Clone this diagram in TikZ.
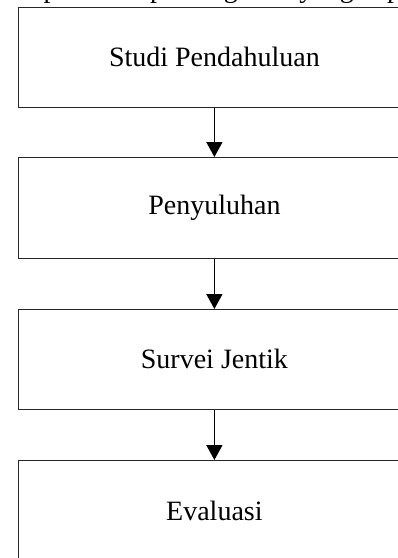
\documentclass[tikz,border=0pt]{standalone}
\usepackage{fontspec}
\setmainfont{Liberation Serif}
\usetikzlibrary{arrows.meta}
\begin{document}
\begin{tikzpicture}[x=1pt,y=-1pt,
  stepbox/.style={draw=black!85, line width=0.8pt, minimum width=392pt, minimum height=100pt,
    inner sep=0pt, font=\fontsize{28}{32}\selectfont, anchor=north west},
  flow/.style={line width=1.6pt, -{Triangle[length=15pt,width=16pt]}}]
\useasboundingbox (0,0) rectangle (398,558);
\clip (0,0) rectangle (398,558);
\node[font=\fontsize{28}{32}\selectfont, anchor=base west] (top) at (40,-3) {pada tahapan kegiatan yang dapat pada};
\node[stepbox] (s1) at (18,7) {Studi Pendahuluan};
\node[stepbox, minimum height=101pt] (s2) at (18,157) {Penyuluhan};
\node[stepbox] (s3) at (18,309) {Survei Jentik};
\node[stepbox, minimum height=101pt] (s4) at (18,460) {Evaluasi};
\draw[flow] (s1.south) -- (s2.north);
\draw[flow] (s2.south) -- (s3.north);
\draw[flow] (s3.south) -- (s4.north);
\end{tikzpicture}
\end{document}
